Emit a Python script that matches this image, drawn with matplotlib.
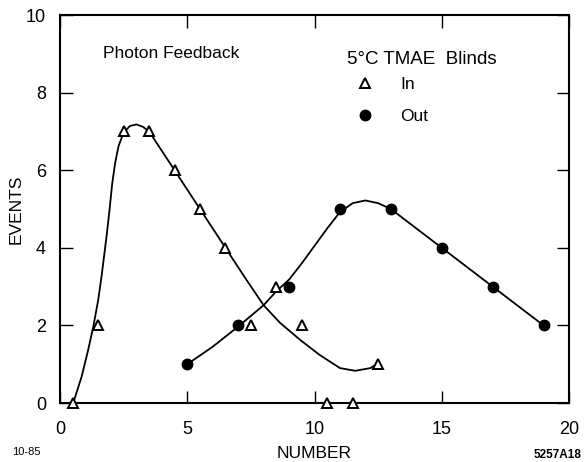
import matplotlib
matplotlib.use("Agg")
import matplotlib.pyplot as plt
from matplotlib.lines import Line2D

plt.rcParams['font.family'] = ['Liberation Sans', 'DejaVu Sans']

# data points, "In" blinds (triangles)
in_x = [0.5, 1.5, 2.5, 3.5, 4.5, 5.5, 6.5, 7.5, 8.5, 9.5, 10.5, 11.5, 12.5]
in_y = [0, 2, 7, 7, 6, 5, 4, 2, 3, 2, 0, 0, 1]

# data points, "Out" blinds (filled circles)
out_x = [5, 7, 9, 11, 13, 15, 17, 19]
out_y = [1, 2, 3, 5, 5, 4, 3, 2]

# hand drawn curves
in_curve_x = [0.52, 0.85, 1.1, 1.31, 1.5, 1.64, 1.83, 1.95, 2.05, 2.17, 2.3, 2.5, 2.75, 3.0,
              3.25, 3.5, 4.0, 4.5, 5.0, 5.5, 6.0, 6.5, 7.3, 8.0, 8.64, 9.43, 10.2,
              11.0, 11.6, 12.2, 12.5]
in_curve_y = [0.0, 0.68, 1.35, 1.97, 2.65, 3.3, 4.3, 5.0, 5.65, 6.2, 6.62, 6.97, 7.14, 7.18,
              7.12, 7.0, 6.5, 6.0, 5.5, 5.0, 4.5, 4.0, 3.2, 2.52, 2.07, 1.63, 1.24,
              0.9, 0.83, 0.9, 1.03]

out_curve_x = [5.0, 6.0, 7.0, 8.0, 8.5, 9.0, 9.5, 10.0, 10.5, 11.0, 11.5, 12.0, 12.5,
               13.0, 15.0, 17.0, 19.0]
out_curve_y = [1.0, 1.45, 1.97, 2.52, 2.88, 3.18, 3.6, 4.05, 4.5, 4.92, 5.15, 5.22, 5.15,
               5.0, 4.0, 3.0, 2.0]

x_ticks = [0, 5, 10, 15, 20]
y_ticks = [0, 2, 4, 6, 8, 10]

fig = plt.figure(figsize=(5.84, 4.62), dpi=100)
ax = fig.add_axes([60 / 584, 1 - 403 / 462, 509 / 584, 388 / 462])

ax.plot(in_curve_x, in_curve_y, color='black', linewidth=1.3)
ax.plot(out_curve_x, out_curve_y, color='black', linewidth=1.3)
ax.plot(in_x, in_y, linestyle='none', marker='^', markersize=7.5,
        markerfacecolor='white', markeredgecolor='black', markeredgewidth=1.4,
        clip_on=False, zorder=5)
ax.plot(out_x, out_y, linestyle='none', marker='o', markersize=7.5,
        color='black', clip_on=False, zorder=5)

ax.set_xlim(0, 20)
ax.set_ylim(0, 10)
ax.set_xticks(x_ticks)
ax.set_yticks(y_ticks)
ax.tick_params(direction='in', length=9, width=1, labelsize=13,
               top=True, right=True, color='black')
ax.tick_params(axis='x', pad=13)
ax.tick_params(axis='y', pad=10)
for s in ax.spines.values():
    s.set_linewidth(1.5)

ax.set_xlabel('NUMBER', fontsize=12.5, labelpad=5.5)
ax.set_ylabel('EVENTS', fontsize=12.5, labelpad=2)

fig.text(103 / 584, 1 - 53 / 462, 'Photon Feedback', fontsize=12.5, va='center', ha='left')
fig.text(347 / 584, 1 - 59 / 462, '5°C TMAE  Blinds', fontsize=13.5, va='center', ha='left')

handles = [
    Line2D([], [], linestyle='none', marker='^', markersize=7.5, markerfacecolor='white',
           markeredgecolor='black', markeredgewidth=1.4),
    Line2D([], [], linestyle='none', marker='o', markersize=7.5, color='black'),
]
leg = ax.legend(handles, ['In', 'Out'], frameon=False,
                loc='upper left', bbox_to_anchor=((347 - 60) / 509, (403 - 77) / 388),
                bbox_transform=ax.transAxes, fontsize=12.5,
                handlelength=2.07, handletextpad=1.0,
                labelspacing=0.95, borderpad=0, borderaxespad=0)

fig.text(12 / 584, 1 - 452 / 462, '10-85', fontsize=8, va='center', ha='left')
fig.text(582 / 584, 1 - 455 / 462, '5257A18', fontsize=8.5, va='center', ha='right',
         fontweight='bold')

fig.savefig('out.png', dpi=100)
